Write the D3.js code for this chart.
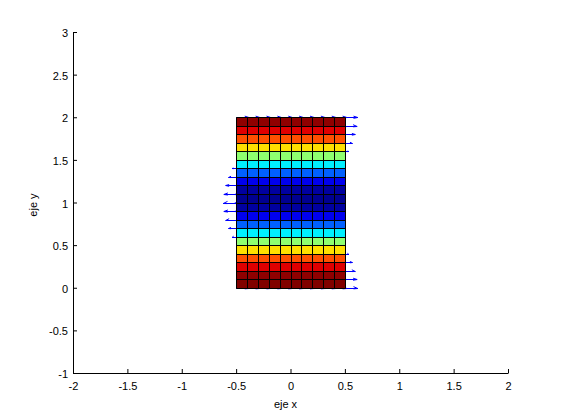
<!DOCTYPE html>
<html><head><meta charset="utf-8">
<script src="https://cdn.jsdelivr.net/npm/d3@7"></script>
<style>
html,body{margin:0;padding:0;background:#fff;}
svg{display:block;}
text{font-family:"Liberation Sans",Arial,Helvetica,sans-serif;}
</style>
</head><body><div id="chart"></div>
<script>
// ---- data ----
const xGrid = [-0.5,-0.4,-0.3,-0.2,-0.1,0,0.1,0.2,0.3,0.4,0.5];
const yGrid = [0,0.1,0.2,0.3,0.4,0.5,0.6,0.7,0.8,0.9,1.0,1.1,1.2,1.3,1.4,1.5,1.6,1.7,1.8,1.9,2.0];
// horizontal velocity u at each grid row (same for every column), v = 0
const uRow = [1,0.951,0.809,0.588,0.309,0,-0.309,-0.588,-0.809,-0.951,-1,-0.951,-0.809,-0.588,-0.309,0,0.309,0.588,0.809,0.951,1];
const xTicks = [-2,-1.5,-1,-0.5,0,0.5,1,1.5,2];
const yTicks = [-1,-0.5,0,0.5,1,1.5,2,2.5,3];
const xLabel = "eje x";
const yLabel = "eje y";

// ---- setup ----
const W = 561, H = 420;
const svg = d3.select("#chart").append("svg").attr("width", W).attr("height", H);
svg.append("rect").attr("width", W).attr("height", H).attr("fill", "#fff");

const x = d3.scaleLinear().domain([-2, 2]).range([73, 508]);
const y = d3.scaleLinear().domain([-1, 3]).range([373, 32]);
const sn = v => Math.round(v) + 0.5;

// MATLAB jet(64)
function jet(c, cmin, cmax) {
  const m = 64;
  let idx = Math.floor((c - cmin) / (cmax - cmin) * m) + 1;
  idx = Math.max(1, Math.min(m, idx));
  const uk = k => (k <= 16 ? k / 16 : (k <= 31 ? 1 : (47 - k + 1) / 16));
  const ch = off => { const k = idx - off; return (k >= 1 && k <= 47) ? uk(k) : 0; };
  const r = ch(24), g = ch(8), b = ch(-8);
  return d3.rgb(Math.round(r * 255), Math.round(g * 255), Math.round(b * 255)).toString();
}
const cmin = d3.min(uRow), cmax = d3.max(uRow);

// ---- quiver (drawn first; the pcolor surface sits on top) ----
const scale = 0.1185, alpha = 0.33, beta = 0.33;
const gq = svg.append("g").attr("stroke", "#0000ff").attr("stroke-width", 1).attr("fill", "none");
yGrid.forEach((yv, j) => {
  const u = uRow[j] * scale;
  if (u === 0) return;
  xGrid.forEach(xv => {
    const ys = sn(y(yv));
    gq.append("line").attr("x1", x(xv)).attr("x2", x(xv + u)).attr("y1", ys).attr("y2", ys);
    const hx = x(xv + u - alpha * u);
    gq.append("polyline").attr("points",
      [[hx, y(yv + alpha * beta * u)], [x(xv + u), ys], [hx, y(yv - alpha * beta * u)]].map(p => p.join(",")).join(" "));
  });
});

// ---- pcolor cells ----
const gc = svg.append("g");
for (let j = 0; j < yGrid.length - 1; j++) {
  for (let i = 0; i < xGrid.length - 1; i++) {
    const x0 = sn(x(xGrid[i])), x1 = sn(x(xGrid[i + 1]));
    const y0 = sn(y(yGrid[j + 1])), y1 = sn(y(yGrid[j]));
    gc.append("rect").attr("x", x0).attr("y", y0).attr("width", x1 - x0).attr("height", y1 - y0)
      .attr("fill", jet(uRow[j], cmin, cmax));
  }
}
const ge = svg.append("g").attr("stroke", "#000").attr("stroke-width", 1);
const gx0 = sn(x(xGrid[0])), gx1 = sn(x(xGrid[xGrid.length - 1]));
const gy0 = sn(y(yGrid[yGrid.length - 1])), gy1 = sn(y(yGrid[0]));
yGrid.forEach(yv => ge.append("line").attr("x1", gx0).attr("x2", gx1).attr("y1", sn(y(yv))).attr("y2", sn(y(yv))));
xGrid.forEach(xv => ge.append("line").attr("y1", gy0).attr("y2", gy1).attr("x1", sn(x(xv))).attr("x2", sn(x(xv))));

// ---- axes ----
const fmt = d => String(d);
const ax = svg.append("g").attr("transform", "translate(0,373)")
  .call(d3.axisBottom(x).tickValues(xTicks).tickFormat(fmt).tickSizeInner(-4).tickSizeOuter(0));
ax.selectAll("text").attr("y", 17).attr("dy", "0");
const ay = svg.append("g").attr("transform", "translate(73,0)")
  .call(d3.axisLeft(y).tickValues(yTicks).tickFormat(fmt).tickSizeInner(-4).tickSizeOuter(0).tickPadding(5));
ay.selectAll("text").attr("y", 4.5).attr("dy", "0");
[ax, ay].forEach(g => {
  g.attr("font-size", 11).attr("font-family", '"Liberation Sans",Arial,sans-serif');
  g.selectAll("path,line").attr("stroke", "#000");
  g.selectAll("text").attr("fill", "#000");
});

svg.append("text").attr("x", 285.5).attr("y", 407.5).attr("text-anchor", "middle")
  .attr("font-size", 11).text(xLabel);
svg.append("text").attr("transform", "translate(37,205) rotate(-90)").attr("text-anchor", "middle")
  .attr("font-size", 11).text(yLabel);
</script>
</body></html>
